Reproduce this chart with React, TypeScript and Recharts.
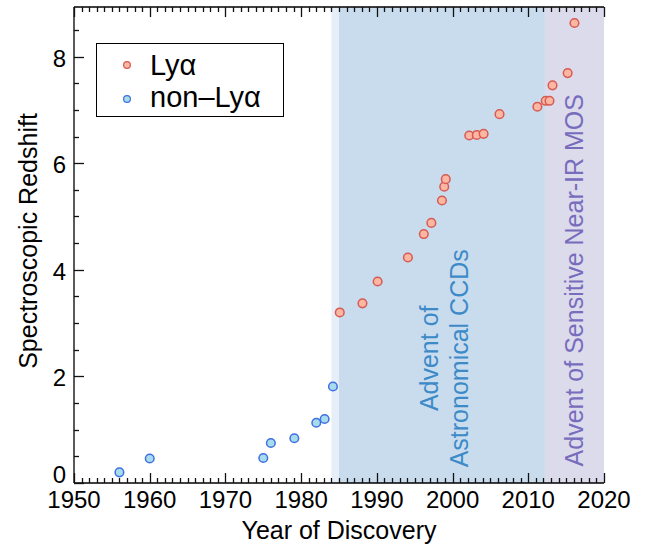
import React from 'react';
import { ScatterChart, Scatter, XAxis, YAxis, ReferenceArea, Legend } from 'recharts';

// ---- Data ----
const lyaYears = [1985.1, 1988.1, 1990.1, 1994.1, 1996.2, 1997.2, 1998.6, 1998.9, 1999.1, 2002.2, 2003.2, 2004.1, 2006.2, 2011.2, 2012.3, 2012.8, 2013.2, 2015.2, 2016.1];
const lyaRedshifts = [3.2, 3.37, 3.78, 4.23, 4.67, 4.88, 5.3, 5.56, 5.7, 6.52, 6.53, 6.55, 6.92, 7.06, 7.17, 7.17, 7.46, 7.69, 8.63];
const nonLyaYears = [1956.0, 1960.0, 1975.0, 1976.0, 1979.1, 1982.0, 1983.1, 1984.2];
const nonLyaRedshifts = [0.2, 0.46, 0.47, 0.75, 0.84, 1.13, 1.2, 1.81];

const xTickLabels = [1950, 1960, 1970, 1980, 1990, 2000, 2010, 2020];
const yTickLabels = [0, 2, 4, 6, 8];
const xDomain = [1950, 2020];
const yDomain = [0, 8.93];

const eraStarts = [1984, 1985, 2012.2];
const eraEnds = [1985, 2012.2, 2020];

const seriesNames = ['Ly\u03b1', 'non\u2013Ly\u03b1'];

// minor ticks: every year on x, every 0.5 on y
const xTicks = Array.from({ length: xDomain[1] - xDomain[0] + 1 }, (_, i) => xDomain[0] + i);
const yTicks = Array.from({ length: 18 }, (_, i) => i * 0.5);

const lyaData = lyaYears.map((year, i) => ({ year, z: lyaRedshifts[i] }));
const nonLyaData = nonLyaYears.map((year, i) => ({ year, z: nonLyaRedshifts[i] }));

const FONT = "'Liberation Sans', Arial, Helvetica, sans-serif";
const RED_FILL = '#fbb7a2';
const RED_STROKE = '#d85a52';
const BLUE_FILL = '#a8dcec';
const BLUE_STROKE = '#3f6fe4';

const XTick = (props: any) => {
  const { x, y, payload, side } = props;
  const v = payload.value;
  const major = xTickLabels.includes(v);
  const len = major ? 10 : 5;
  const dir = side === 'bottom' ? -1 : 1;
  const xr = Math.round(x) + 0.5;
  return (
    <g>
      <line x1={xr} x2={xr} y1={y} y2={y + dir * len} stroke="#111" strokeWidth={1.3} />
      {side === 'bottom' && major && (
        <text x={x} y={y + 25} textAnchor="middle" fontSize={24} fontFamily={FONT} fill="#000">
          {v}
        </text>
      )}
    </g>
  );
};

const YTick = (props: any) => {
  const { x, y, payload } = props;
  const v = payload.value;
  const major = yTickLabels.includes(v);
  const len = major ? 10 : 5;
  const yr = Math.round(y) + 0.5;
  return (
    <g>
      <line x1={x} x2={x + len} y1={yr} y2={yr} stroke="#111" strokeWidth={1.3} />
      {major && (
        <text x={x - 8} y={v === 0 ? y : y + 10} textAnchor="end" fontSize={24} fontFamily={FONT} fill="#000">
          {v}
        </text>
      )}
    </g>
  );
};

const makeDot = (fill: string, stroke: string) => (p: any) => (
  <circle cx={p.cx} cy={p.cy} r={4.3} fill={fill} stroke={stroke} strokeWidth={1.5} />
);

const HiddenDot = () => <g />;

const CCDLabel = (props: any) => {
  const vb = props.viewBox || {};
  const cx = vb.x + vb.width / 2;
  const cy = vb.y + vb.height * 0.738;
  const l1x = cx - 3.5;
  const l2x = cx + 26.5;
  return (
    <g fontFamily={FONT} fontSize={25} fill="#3d8ac8">
      <text x={l1x} y={cy} textAnchor="middle" transform={`rotate(-90, ${l1x}, ${cy})`}>Advent of</text>
      <text x={l2x} y={cy} textAnchor="middle" transform={`rotate(-90, ${l2x}, ${cy})`}>Astronomical CCDs</text>
    </g>
  );
};

const MOSLabel = (props: any) => {
  const vb = props.viewBox || {};
  const lx = vb.x + vb.width / 2 + 9;
  const cy = vb.y + vb.height * 0.574;
  return (
    <text x={lx} y={cy} textAnchor="middle" fontFamily={FONT} fontSize={25} fill="#786dbd" transform={`rotate(-90, ${lx}, ${cy})`}>
      Advent of Sensitive Near-IR MOS
    </text>
  );
};

const LegendBox = () => (
  <div style={{ width: 188, height: 74, border: '1px solid #000', background: '#fff', boxSizing: 'border-box' }}>
    <svg width={186} height={72} style={{ display: 'block' }}>
      <circle cx={30} cy={21} r={3.4} fill={RED_FILL} stroke={RED_STROKE} strokeWidth={1.2} />
      <text x={53} y={31} fontFamily={FONT} fontSize={29} fill="#000">{seriesNames[0]}</text>
      <circle cx={30} cy={55} r={3.4} fill={BLUE_FILL} stroke={BLUE_STROKE} strokeWidth={1.2} />
      <text x={53} y={63} fontFamily={FONT} fontSize={29} fill="#000">{seriesNames[1]}</text>
    </svg>
  </div>
);

const YLabel = (props: any) => {
  const vb = props.viewBox || {};
  const x = vb.x + 37;
  const y = vb.y + vb.height / 2 - 4;
  return (
    <text x={x} y={y} textAnchor="middle" fontFamily={FONT} fontSize={25} fill="#000" transform={`rotate(-90, ${x}, ${y})`}>
      Spectroscopic Redshift
    </text>
  );
};

const XLabel = (props: any) => {
  const vb = props.viewBox || {};
  return (
    <text x={vb.x + vb.width / 2} y={vb.y + 56} textAnchor="middle" fontFamily={FONT} fontSize={25} fill="#000">
      Year of Discovery
    </text>
  );
};

export default function App() {
  const eraFills = ['#e6eef8', '#c9dcee', '#dcdbec'];
  return (
    <div style={{ position: 'absolute', left: 0, top: 0, width: 652, height: 546, background: '#fff' }}>
      <ScatterChart width={652} height={546} margin={{ top: 6, right: 48, bottom: 0, left: 0 }}>
        {eraStarts.map((s, i) => (
          <ReferenceArea
            key={i}
            x1={s}
            x2={eraEnds[i]}
            fill={eraFills[i]}
            fillOpacity={1}
            stroke="none"
            ifOverflow="hidden"
            label={i === 1 ? (p: any) => <CCDLabel {...p} /> : i === 2 ? (p: any) => <MOSLabel {...p} /> : undefined}
          />
        ))}
        <XAxis
          dataKey="year"
          type="number"
          domain={xDomain}
          ticks={xTicks}
          interval={0}
          allowDataOverflow
          height={63}
          tickSize={0}
          tickMargin={0}
          tickLine={false}
          axisLine={{ stroke: '#000', strokeWidth: 1.3 }}
          tick={(p: any) => <XTick {...p} side="bottom" />}
          label={(p: any) => <XLabel {...p} />}
        />
        <XAxis
          xAxisId="top"
          orientation="top"
          dataKey="year"
          type="number"
          domain={xDomain}
          ticks={xTicks}
          interval={0}
          allowDataOverflow
          height={1}
          tickSize={0}
          tickMargin={0}
          tickLine={false}
          axisLine={{ stroke: '#000', strokeWidth: 1.3 }}
          tick={(p: any) => <XTick {...p} side="top" />}
        />
        <YAxis
          dataKey="z"
          type="number"
          domain={yDomain}
          ticks={yTicks}
          interval={0}
          allowDataOverflow
          width={74}
          tickSize={0}
          tickMargin={0}
          tickLine={false}
          axisLine={{ stroke: '#000', strokeWidth: 1.3 }}
          tick={(p: any) => <YTick {...p} />}
          label={(p: any) => <YLabel {...p} />}
        />
        <Scatter
          xAxisId="top"
          name="top-axis-anchor"
          legendType="none"
          data={lyaData}
          isAnimationActive={false}
          shape={HiddenDot}
        />
        <Scatter name={seriesNames[0]} data={lyaData} isAnimationActive={false} shape={makeDot(RED_FILL, RED_STROKE)} />
        <Scatter name={seriesNames[1]} data={nonLyaData} isAnimationActive={false} shape={makeDot(BLUE_FILL, BLUE_STROKE)} />
        <Legend
          layout="horizontal"
          verticalAlign="middle"
          align="center"
          wrapperStyle={{ position: 'absolute', left: 96, top: 43, width: 188, height: 74 }}
          content={() => <LegendBox />}
        />
      </ScatterChart>
    </div>
  );
}
